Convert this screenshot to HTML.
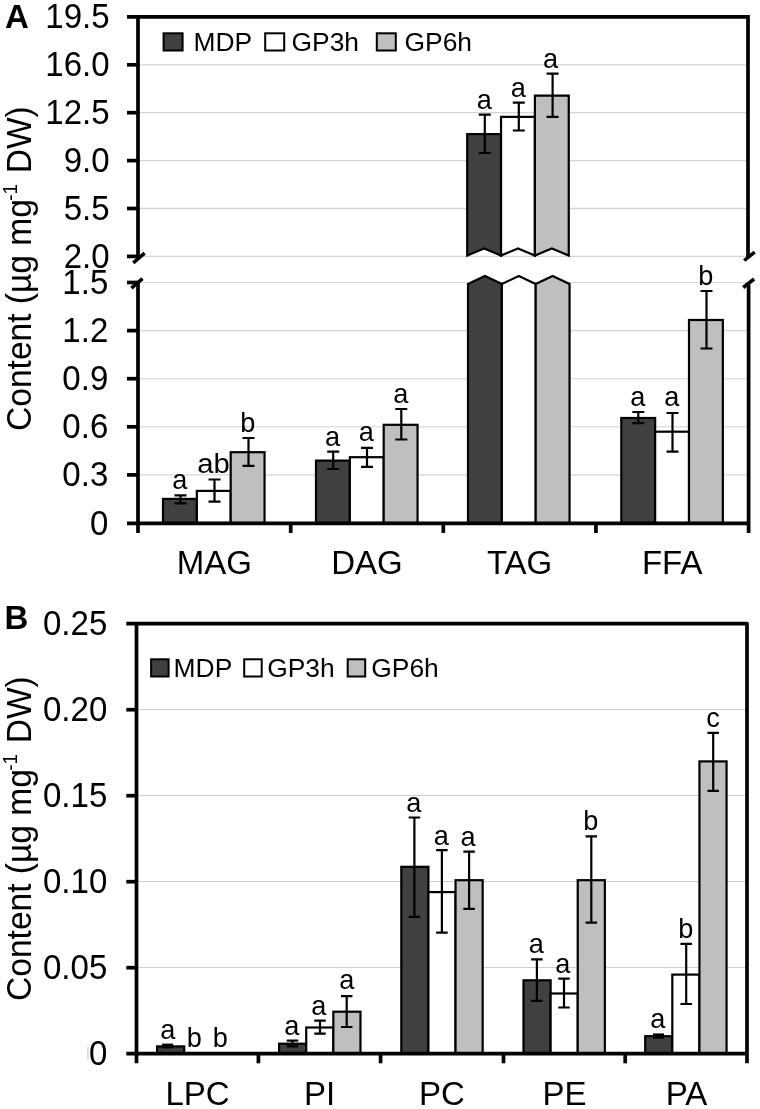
<!DOCTYPE html>
<html><head><meta charset="utf-8"><title>Figure</title>
<style>
html,body{margin:0;padding:0;background:#fff;}
svg{display:block;will-change:transform;}
text{font-family:"Liberation Sans",sans-serif;fill:#000;}
</style></head><body>
<svg width="760" height="1109" viewBox="0 0 760 1109">
<rect width="760" height="1109" fill="#fff"/>
<line x1="138" x2="746.6" y1="64.8" y2="64.8" stroke="#d4d4d4" stroke-width="1.3"/>
<line x1="138" x2="746.6" y1="112.7" y2="112.7" stroke="#d4d4d4" stroke-width="1.3"/>
<line x1="138" x2="746.6" y1="160.6" y2="160.6" stroke="#d4d4d4" stroke-width="1.3"/>
<line x1="138" x2="746.6" y1="208.5" y2="208.5" stroke="#d4d4d4" stroke-width="1.3"/>
<line x1="138" x2="746.6" y1="256.4" y2="256.4" stroke="#d4d4d4" stroke-width="1.3"/>
<line x1="138" x2="746.6" y1="282.5" y2="282.5" stroke="#d4d4d4" stroke-width="1.1"/>
<line x1="138" x2="746.6" y1="330.6" y2="330.6" stroke="#d4d4d4" stroke-width="1.1"/>
<line x1="138" x2="746.6" y1="378.7" y2="378.7" stroke="#d4d4d4" stroke-width="1.1"/>
<line x1="138" x2="746.6" y1="426.8" y2="426.8" stroke="#d4d4d4" stroke-width="1.1"/>
<line x1="138" x2="746.6" y1="474.9" y2="474.9" stroke="#d4d4d4" stroke-width="1.1"/>
<rect x="163.0" y="498.9" width="33.849999999999994" height="24.100000000000023" fill="#404040" stroke="#000" stroke-width="2.2"/>
<rect x="196.85" y="490.9" width="33.849999999999994" height="32.10000000000002" fill="#ffffff" stroke="#000" stroke-width="2.2"/>
<rect x="230.7" y="452.2" width="33.85000000000002" height="70.80000000000001" fill="#bfbfbf" stroke="#000" stroke-width="2.2"/>
<rect x="316.0" y="460.6" width="33.85000000000002" height="62.39999999999998" fill="#404040" stroke="#000" stroke-width="2.2"/>
<rect x="349.85" y="457.2" width="33.849999999999966" height="65.80000000000001" fill="#ffffff" stroke="#000" stroke-width="2.2"/>
<rect x="383.7" y="424.8" width="33.85000000000002" height="98.19999999999999" fill="#bfbfbf" stroke="#000" stroke-width="2.2"/>
<rect x="621.3" y="418.0" width="33.85000000000002" height="105.0" fill="#404040" stroke="#000" stroke-width="2.2"/>
<rect x="655.15" y="431.7" width="33.85000000000002" height="91.30000000000001" fill="#ffffff" stroke="#000" stroke-width="2.2"/>
<rect x="689.0" y="320.0" width="33.84999999999991" height="203.0" fill="#bfbfbf" stroke="#000" stroke-width="2.2"/>
<path d="M468.0 523.0V284L484.925 276L501.85 284V523.0Z" fill="#404040" stroke="#000" stroke-width="2.2" stroke-linejoin="miter"/>
<path d="M467.2 255.5V134.2H501.05V255.5L484.125 248.5Z" fill="#404040" stroke="#000" stroke-width="2.2" stroke-linejoin="miter"/>
<path d="M501.85 523.0V284L518.7750000000001 276L535.7 284V523.0Z" fill="#ffffff" stroke="#000" stroke-width="2.2" stroke-linejoin="miter"/>
<path d="M501.05 255.5V116.9H534.9000000000001V255.5L517.9750000000001 248.5Z" fill="#ffffff" stroke="#000" stroke-width="2.2" stroke-linejoin="miter"/>
<path d="M535.7 523.0V284L552.625 276L569.55 284V523.0Z" fill="#bfbfbf" stroke="#000" stroke-width="2.2" stroke-linejoin="miter"/>
<path d="M534.9000000000001 255.5V95.7H568.75V255.5L551.825 248.5Z" fill="#bfbfbf" stroke="#000" stroke-width="2.2" stroke-linejoin="miter"/>
<path d="M180.5 495.3V503.3M174.5 495.3H186.5M174.5 503.3H186.5" stroke="#000" stroke-width="2.2" fill="none"/>
<path d="M214.5 479.5V501.6M208.5 479.5H220.5M208.5 501.6H220.5" stroke="#000" stroke-width="2.2" fill="none"/>
<path d="M248.5 438V465.8M242.5 438H254.5M242.5 465.8H254.5" stroke="#000" stroke-width="2.2" fill="none"/>
<path d="M333.2 451.7V469M327.2 451.7H339.2M327.2 469H339.2" stroke="#000" stroke-width="2.2" fill="none"/>
<path d="M367 447.9V466.8M361.0 447.9H373.0M361.0 466.8H373.0" stroke="#000" stroke-width="2.2" fill="none"/>
<path d="M401.3 409V439.5M395.3 409H407.3M395.3 439.5H407.3" stroke="#000" stroke-width="2.2" fill="none"/>
<path d="M484.8 114.7V153M478.8 114.7H490.8M478.8 153H490.8" stroke="#000" stroke-width="2.2" fill="none"/>
<path d="M518.8 102.7V130.5M512.8 102.7H524.8M512.8 130.5H524.8" stroke="#000" stroke-width="2.2" fill="none"/>
<path d="M552.6 73.7V116.8M546.6 73.7H558.6M546.6 116.8H558.6" stroke="#000" stroke-width="2.2" fill="none"/>
<path d="M638.3 412V423.2M632.3 412H644.3M632.3 423.2H644.3" stroke="#000" stroke-width="2.2" fill="none"/>
<path d="M672.5 413V451.6M666.5 413H678.5M666.5 451.6H678.5" stroke="#000" stroke-width="2.2" fill="none"/>
<path d="M706.5 291V348.5M700.5 291H712.5M700.5 348.5H712.5" stroke="#000" stroke-width="2.2" fill="none"/>
<text transform="translate(179.9,488.8) scale(0.97,1)" font-size="28" text-anchor="middle">a</text>
<text transform="translate(213.4,473.3) scale(1.045,1)" font-size="28" text-anchor="middle">ab</text>
<text transform="translate(247.9,431.8) scale(0.97,1)" font-size="28" text-anchor="middle">b</text>
<text transform="translate(332.6,446.2) scale(0.97,1)" font-size="28" text-anchor="middle">a</text>
<text transform="translate(366.4,441.3) scale(0.97,1)" font-size="28" text-anchor="middle">a</text>
<text transform="translate(400.7,402.8) scale(0.97,1)" font-size="28" text-anchor="middle">a</text>
<text transform="translate(484.2,109.2) scale(0.97,1)" font-size="28" text-anchor="middle">a</text>
<text transform="translate(518.2,96.6) scale(0.97,1)" font-size="28" text-anchor="middle">a</text>
<text transform="translate(550.6,68.2) scale(0.97,1)" font-size="28" text-anchor="middle">a</text>
<text transform="translate(637.7,406.2) scale(0.97,1)" font-size="28" text-anchor="middle">a</text>
<text transform="translate(671.9,406.2) scale(0.97,1)" font-size="28" text-anchor="middle">a</text>
<text transform="translate(705.9,284.5) scale(0.97,1)" font-size="28" text-anchor="middle">b</text>
<path d="M127 16.9H748.0V257" stroke="#000" stroke-width="3.7" fill="none" stroke-linejoin="miter"/>
<path d="M138 16.9V258" stroke="#000" stroke-width="3.7" fill="none"/>
<path d="M138 283V533" stroke="#000" stroke-width="3.7" fill="none"/>
<path d="M748.6 284.5V533" stroke="#000" stroke-width="3.7" fill="none"/>
<path d="M127 523.3H748.6" stroke="#000" stroke-width="3.7" fill="none"/>
<path d="M127 64.8H138" stroke="#000" stroke-width="3.7" fill="none"/>
<path d="M127 112.7H138" stroke="#000" stroke-width="3.7" fill="none"/>
<path d="M127 160.6H138" stroke="#000" stroke-width="3.7" fill="none"/>
<path d="M127 208.5H138" stroke="#000" stroke-width="3.7" fill="none"/>
<path d="M127 256.4H138" stroke="#000" stroke-width="3.7" fill="none"/>
<path d="M127 282.5H138" stroke="#000" stroke-width="3.7" fill="none"/>
<path d="M127 330.6H138" stroke="#000" stroke-width="3.7" fill="none"/>
<path d="M127 378.7H138" stroke="#000" stroke-width="3.7" fill="none"/>
<path d="M127 426.8H138" stroke="#000" stroke-width="3.7" fill="none"/>
<path d="M127 474.9H138" stroke="#000" stroke-width="3.7" fill="none"/>
<path d="M290.7 523.3V533" stroke="#000" stroke-width="3.7" fill="none"/>
<path d="M443.3 523.3V533" stroke="#000" stroke-width="3.7" fill="none"/>
<path d="M595.9 523.3V533" stroke="#000" stroke-width="3.7" fill="none"/>
<path d="M133.3 262.9L144.6 253.1" stroke="#000" stroke-width="3.5" fill="none"/>
<path d="M131.4 288.2L142.5 278.7" stroke="#000" stroke-width="3.5" fill="none"/>
<path d="M744.2 260.5L754.7 252.1" stroke="#000" stroke-width="3.5" fill="none"/>
<path d="M743.2 287.5L754.1 279" stroke="#000" stroke-width="3.5" fill="none"/>
<text transform="translate(109.6,28.4) scale(0.955,1)" font-size="34.6" text-anchor="end">19.5</text>
<text transform="translate(109.6,76.3) scale(0.955,1)" font-size="34.6" text-anchor="end">16.0</text>
<text transform="translate(109.6,124.2) scale(0.955,1)" font-size="34.6" text-anchor="end">12.5</text>
<text transform="translate(109.6,172.1) scale(0.955,1)" font-size="34.6" text-anchor="end">9.0</text>
<text transform="translate(109.6,220.0) scale(0.955,1)" font-size="34.6" text-anchor="end">5.5</text>
<text transform="translate(109.6,267.9) scale(0.955,1)" font-size="34.6" text-anchor="end">2.0</text>
<rect x="40" y="270.3" width="84" height="26" fill="#fff"/>
<text transform="translate(108.3,294.0) scale(0.955,1)" font-size="34.6" text-anchor="end">1.5</text>
<text transform="translate(108.3,342.1) scale(0.955,1)" font-size="34.6" text-anchor="end">1.2</text>
<text transform="translate(108.3,390.2) scale(0.955,1)" font-size="34.6" text-anchor="end">0.9</text>
<text transform="translate(108.3,438.3) scale(0.955,1)" font-size="34.6" text-anchor="end">0.6</text>
<text transform="translate(108.3,486.4) scale(0.955,1)" font-size="34.6" text-anchor="end">0.3</text>
<text transform="translate(108.3,534.8) scale(0.955,1)" font-size="34.6" text-anchor="end">0</text>
<text x="214.3" y="573.8" font-size="33" text-anchor="middle" font-weight="normal" >MAG</text>
<text x="367" y="573.8" font-size="33" text-anchor="middle" font-weight="normal" >DAG</text>
<text x="519.6" y="573.8" font-size="33" text-anchor="middle" font-weight="normal" >TAG</text>
<text x="672.2" y="573.8" font-size="33" text-anchor="middle" font-weight="normal" >FFA</text>
<rect x="163.6" y="33.3" width="19" height="17.2" fill="#404040" stroke="#000" stroke-width="2"/>
<text x="193.5" y="50.599999999999994" font-size="26.4" text-anchor="start" font-weight="normal" >MDP</text>
<rect x="265.2" y="33.3" width="19" height="17.2" fill="#ffffff" stroke="#000" stroke-width="2"/>
<text x="291.5" y="50.599999999999994" font-size="26.4" text-anchor="start" font-weight="normal" >GP3h</text>
<rect x="376.8" y="33.3" width="19" height="17.2" fill="#bfbfbf" stroke="#000" stroke-width="2"/>
<text x="404.5" y="50.599999999999994" font-size="26.4" text-anchor="start" font-weight="normal" >GP6h</text>
<text x="5.1" y="28" font-size="33" text-anchor="start" font-weight="bold" fill="#161616" >A</text>
<text transform="translate(30.5,268.6) rotate(-90) scale(1,1.065)" font-size="33.55" text-anchor="middle">Content (µg mg<tspan font-size="19" dy="-12.6" dx="-1.6">-1</tspan><tspan dy="12.6" dx="1.2"> DW)</tspan></text>
<line x1="136.5" x2="745.0" y1="709.5" y2="709.5" stroke="#cecece" stroke-width="1.0"/>
<line x1="136.5" x2="745.0" y1="795.5" y2="795.5" stroke="#cecece" stroke-width="1.0"/>
<line x1="136.5" x2="745.0" y1="881.5" y2="881.5" stroke="#cecece" stroke-width="1.0"/>
<line x1="136.5" x2="745.0" y1="967.5" y2="967.5" stroke="#cecece" stroke-width="1.0"/>
<rect x="157.1" y="1046.4" width="27.120000000000005" height="6.899999999999864" fill="#404040" stroke="#000" stroke-width="2.2"/>
<rect x="279.1" y="1043.7" width="27.120000000000005" height="9.599999999999909" fill="#404040" stroke="#000" stroke-width="2.2"/>
<rect x="306.22" y="1027.5" width="27.120000000000005" height="25.799999999999955" fill="#ffffff" stroke="#000" stroke-width="2.2"/>
<rect x="333.34000000000003" y="1011.7" width="27.120000000000005" height="41.59999999999991" fill="#bfbfbf" stroke="#000" stroke-width="2.2"/>
<rect x="401.3" y="866.8" width="27.120000000000005" height="186.5" fill="#404040" stroke="#000" stroke-width="2.2"/>
<rect x="428.42" y="892.1" width="27.120000000000005" height="161.19999999999993" fill="#ffffff" stroke="#000" stroke-width="2.2"/>
<rect x="455.54" y="880.2" width="27.120000000000005" height="173.0999999999999" fill="#bfbfbf" stroke="#000" stroke-width="2.2"/>
<rect x="523.5" y="980.3" width="27.120000000000005" height="73.0" fill="#404040" stroke="#000" stroke-width="2.2"/>
<rect x="550.62" y="993.5" width="27.120000000000005" height="59.799999999999955" fill="#ffffff" stroke="#000" stroke-width="2.2"/>
<rect x="577.74" y="880.2" width="27.120000000000005" height="173.0999999999999" fill="#bfbfbf" stroke="#000" stroke-width="2.2"/>
<rect x="645.2" y="1036.2" width="27.120000000000005" height="17.09999999999991" fill="#404040" stroke="#000" stroke-width="2.2"/>
<rect x="672.32" y="974.6" width="27.120000000000005" height="78.69999999999993" fill="#ffffff" stroke="#000" stroke-width="2.2"/>
<rect x="699.44" y="761.4" width="27.120000000000005" height="291.9" fill="#bfbfbf" stroke="#000" stroke-width="2.2"/>
<rect x="162.1" y="1043.6" width="11" height="4.8" fill="#000"/>
<rect x="653" y="1033.4" width="11" height="5.3" fill="#000"/>
<path d="M292.5 1040.6V1046.3M286.75 1040.6H298.25M286.75 1046.3H298.25" stroke="#000" stroke-width="2.2" fill="none"/>
<path d="M320 1020.6V1033.7M314.25 1020.6H325.75M314.25 1033.7H325.75" stroke="#000" stroke-width="2.2" fill="none"/>
<path d="M346.7 996.2V1027M340.95 996.2H352.45M340.95 1027H352.45" stroke="#000" stroke-width="2.2" fill="none"/>
<path d="M414.4 817.5V916.8M408.65 817.5H420.15M408.65 916.8H420.15" stroke="#000" stroke-width="2.2" fill="none"/>
<path d="M441.9 850.1V932.6M436.15 850.1H447.65M436.15 932.6H447.65" stroke="#000" stroke-width="2.2" fill="none"/>
<path d="M469.1 851.6V908.8M463.35 851.6H474.85M463.35 908.8H474.85" stroke="#000" stroke-width="2.2" fill="none"/>
<path d="M536.9 959.4V1000.9M531.15 959.4H542.65M531.15 1000.9H542.65" stroke="#000" stroke-width="2.2" fill="none"/>
<path d="M564 978.7V1007.5M558.25 978.7H569.75M558.25 1007.5H569.75" stroke="#000" stroke-width="2.2" fill="none"/>
<path d="M591.3 836.3V922.6M585.55 836.3H597.05M585.55 922.6H597.05" stroke="#000" stroke-width="2.2" fill="none"/>
<path d="M686.2 943.9V1004M680.45 943.9H691.95M680.45 1004H691.95" stroke="#000" stroke-width="2.2" fill="none"/>
<path d="M713.2 732.9V790.9M707.45 732.9H718.95M707.45 790.9H718.95" stroke="#000" stroke-width="2.2" fill="none"/>
<text transform="translate(167.9,1039.1) scale(0.97,1)" font-size="28" text-anchor="middle">a</text>
<text transform="translate(194.4,1047.1) scale(0.97,1)" font-size="28" text-anchor="middle">b</text>
<text transform="translate(220.4,1047.1) scale(0.97,1)" font-size="28" text-anchor="middle">b</text>
<text transform="translate(291.9,1034.5) scale(0.97,1)" font-size="28" text-anchor="middle">a</text>
<text transform="translate(318.9,1014.5) scale(0.97,1)" font-size="28" text-anchor="middle">a</text>
<text transform="translate(346.7,989.2) scale(0.97,1)" font-size="28" text-anchor="middle">a</text>
<text transform="translate(413.9,812.4) scale(0.97,1)" font-size="28" text-anchor="middle">a</text>
<text transform="translate(441.2,844.6) scale(0.97,1)" font-size="28" text-anchor="middle">a</text>
<text transform="translate(468.1,845.6) scale(0.97,1)" font-size="28" text-anchor="middle">a</text>
<text transform="translate(536.4,953.2) scale(0.97,1)" font-size="28" text-anchor="middle">a</text>
<text transform="translate(562.9,972.7) scale(0.97,1)" font-size="28" text-anchor="middle">a</text>
<text transform="translate(590.9,830.1) scale(0.97,1)" font-size="28" text-anchor="middle">b</text>
<text transform="translate(657.9,1028.2) scale(0.97,1)" font-size="28" text-anchor="middle">a</text>
<text transform="translate(685.7,937.6) scale(0.97,1)" font-size="28" text-anchor="middle">b</text>
<text transform="translate(713.1,727.3) scale(0.97,1)" font-size="28" text-anchor="middle">c</text>
<path d="M126.3 623.7H747.0V1063.3" stroke="#000" stroke-width="3.7" fill="none" stroke-linejoin="round"/>
<path d="M136.5 623.7V1063.3" stroke="#000" stroke-width="3.7" fill="none"/>
<path d="M126.3 1053.6H747.0" stroke="#000" stroke-width="3.7" fill="none"/>
<path d="M126.3 709.7H136.5" stroke="#000" stroke-width="3.7" fill="none"/>
<path d="M126.3 795.7H136.5" stroke="#000" stroke-width="3.7" fill="none"/>
<path d="M126.3 881.7H136.5" stroke="#000" stroke-width="3.7" fill="none"/>
<path d="M126.3 967.7H136.5" stroke="#000" stroke-width="3.7" fill="none"/>
<path d="M258.4 1053.6V1063.3" stroke="#000" stroke-width="3.7" fill="none"/>
<path d="M380.6 1053.6V1063.3" stroke="#000" stroke-width="3.7" fill="none"/>
<path d="M503.5 1053.6V1063.3" stroke="#000" stroke-width="3.7" fill="none"/>
<path d="M625.2 1053.6V1063.3" stroke="#000" stroke-width="3.7" fill="none"/>
<text transform="translate(107.3,635.2) scale(0.955,1)" font-size="34.6" text-anchor="end">0.25</text>
<text transform="translate(107.3,721.2) scale(0.955,1)" font-size="34.6" text-anchor="end">0.20</text>
<text transform="translate(107.3,807.2) scale(0.955,1)" font-size="34.6" text-anchor="end">0.15</text>
<text transform="translate(107.3,893.2) scale(0.955,1)" font-size="34.6" text-anchor="end">0.10</text>
<text transform="translate(107.3,979.2) scale(0.955,1)" font-size="34.6" text-anchor="end">0.05</text>
<text transform="translate(107.3,1065.1) scale(0.955,1)" font-size="34.6" text-anchor="end">0</text>
<rect x="87.3" y="1047" width="1.2" height="13" fill="#cfcfcf"/>
<text x="197.6" y="1104.6" font-size="33" text-anchor="middle" font-weight="normal" >LPC</text>
<text x="319.7" y="1104.6" font-size="33" text-anchor="middle" font-weight="normal" >PI</text>
<text x="442" y="1104.6" font-size="33" text-anchor="middle" font-weight="normal" >PC</text>
<text x="564.5" y="1104.6" font-size="33" text-anchor="middle" font-weight="normal" >PE</text>
<text x="686.5" y="1104.6" font-size="33" text-anchor="middle" font-weight="normal" >PA</text>
<rect x="151.1" y="659.3" width="17.5" height="17.2" fill="#404040" stroke="#000" stroke-width="2"/>
<text x="173.6" y="676.5999999999999" font-size="26.4" text-anchor="start" font-weight="normal" >MDP</text>
<rect x="244.2" y="659.3" width="17.5" height="17.2" fill="#ffffff" stroke="#000" stroke-width="2"/>
<text x="267.2" y="676.5999999999999" font-size="26.4" text-anchor="start" font-weight="normal" >GP3h</text>
<rect x="347.7" y="659.3" width="17.5" height="17.2" fill="#bfbfbf" stroke="#000" stroke-width="2"/>
<text x="371.3" y="676.5999999999999" font-size="26.4" text-anchor="start" font-weight="normal" >GP6h</text>
<text x="4.5" y="628.8" font-size="33" text-anchor="start" font-weight="bold" fill="#161616" >B</text>
<text transform="translate(30.5,838.6) rotate(-90) scale(1,1.065)" font-size="33.55" text-anchor="middle">Content (µg mg<tspan font-size="19" dy="-12.6" dx="-1.6">-1</tspan><tspan dy="12.6" dx="1.2"> DW)</tspan></text>
</svg>
</body></html>
